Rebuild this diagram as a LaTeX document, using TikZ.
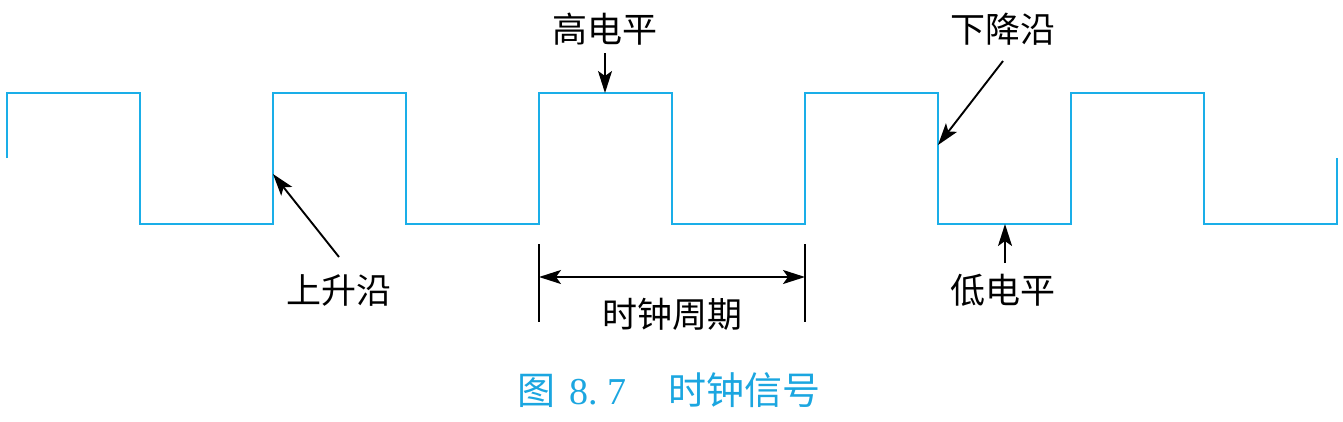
\documentclass[tikz,border=0pt]{standalone}
\usepackage{fontspec}
\setmainfont{Liberation Serif}
\newfontfamily\cjk{Noto Sans CJK SC}[Scale=1]
\usetikzlibrary{arrows.meta}
\definecolor{wave}{HTML}{1AAEE8}
\definecolor{capc}{HTML}{1BA6E0}
\tikzset{
  wavestyle/.style={draw=wave, line width=2.4pt},
  pointer/.style={draw=black, line width=1.9pt, -{Stealth[length=22pt,width=14pt,inset=5pt]}},
  dim/.style={draw=black, line width=1.9pt, {Stealth[length=22pt,width=14pt,inset=5pt]}-{Stealth[length=22pt,width=14pt,inset=5pt]}},
  tick/.style={draw=black, line width=1.6pt},
  lbl/.style={font=\cjk\fontsize{35pt}{40pt}\selectfont, inner sep=0pt, text=black},
  caption/.style={font=\fontsize{38pt}{44pt}\selectfont, inner sep=0pt, text=capc}
}
\begin{document}
\begin{tikzpicture}[x=1pt,y=-1pt]
\useasboundingbox (0,0) rectangle (1343,421);
% waveform
\draw[wavestyle] (7,158) -- (7,93) -- (140,93) -- (140,224) -- (273,224) -- (273,93)
  -- (406,93) -- (406,224) -- (539,224) -- (539,93) -- (672,93) -- (672,224)
  -- (805,224) -- (805,93) -- (938,93) -- (938,224) -- (1071,224) -- (1071,93)
  -- (1204,93) -- (1204,224) -- (1337,224) -- (1337,158);
% anchor points on the waveform
\coordinate (rise) at (273,174);
\coordinate (high) at (605,93);
\coordinate (fall) at (938,145);
\coordinate (low) at (1005,224);
\coordinate (pA) at (539,277);
\coordinate (pB) at (805,277);
% labels
\node[lbl] (lrise) at (339,290) {上升沿};
\node[lbl] (lhigh) at (605,29) {高电平};
\node[lbl] (lfall) at (1003,29) {下降沿};
\node[lbl] (llow) at (1003,290) {低电平};
\node[lbl] (lper) at (672,314) {时钟周期};
% pointers
\draw[pointer] (339,257) -- (rise);
\draw[pointer] (605,53) -- (high);
\draw[pointer] (1003,61) -- (fall);
\draw[pointer] (1005,263) -- (low);
% period dimension
\coordinate (tA1) at (539,244); \coordinate (tA2) at (539,322);
\coordinate (tB1) at (805,244); \coordinate (tB2) at (805,322);
\draw[tick] (tA1) -- (tA2);
\draw[tick] (tB1) -- (tB2);
\draw[dim] (pA) -- (pB);
% caption
\node[caption] (cap) at (669,390) {{\cjk 图}\hspace{0.35em}8.\hspace{0.25em}7\hspace{1.1em}{\cjk 时钟信号}};
\end{tikzpicture}
\end{document}
